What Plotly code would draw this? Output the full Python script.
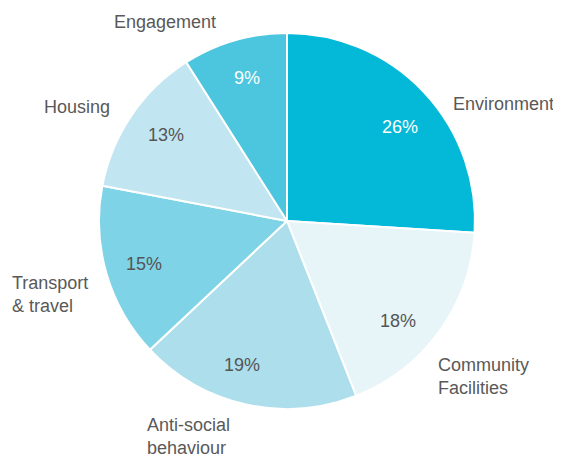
import plotly.graph_objects as go

categories = ["Environment", "Community Facilities", "Anti-social behaviour",
              "Transport & travel", "Housing", "Engagement"]
values = [26, 18, 19, 15, 13, 9]
label_texts = ["Environment", "Community<br>Facilities", "Anti-social<br>behaviour",
               "Transport<br>& travel", "Housing", "Engagement"]

colors = ["#04b8d8", "#e7f5f9", "#acdeec", "#7fd3e6", "#c2e6f1", "#4cc6de"]
pct_colors = ["#ffffff", "#555555", "#555555", "#555555", "#555555", "#ffffff"]

# page body adds an 8px margin, so the figure is drawn 8px smaller and offset
OFF = 8
W, H = 561 - OFF, 454 - OFF
CX, CY, R = 287 - OFF, 221 - OFF, 188

# label positions (reference px)
pct_pos = [(400, 127), (398, 321), (242, 365), (144, 264), (166, 135), (247, 78)]
label_pos = [(503, 104, "center"), (436, 376, "left"), (145, 436, "left"),
             (10, 294, "left"), (77, 107, "center"), (165, 22, "center")]

fig = go.Figure(go.Pie(
    labels=categories, values=values, sort=False, direction="clockwise",
    rotation=0, textinfo="none", hoverinfo="label+percent",
    marker=dict(colors=colors, line=dict(color="#ffffff", width=2)),
    domain=dict(x=[(CX - R) / W, (CX + R) / W], y=[1 - (CY + R) / H, 1 - (CY - R) / H]),
    showlegend=False,
))

font = "Liberation Sans, Arial, Helvetica, sans-serif"
annotations = []
for v, c, (px, py) in zip(values, pct_colors, pct_pos):
    px -= OFF
    py -= OFF
    annotations.append(dict(x=px / W, y=1 - py / H, xref="paper", yref="paper",
                            text=f"{v}%", showarrow=False,
                            font=dict(size=18, color=c, family=font),
                            xanchor="center", yanchor="middle"))

for t, (px, py, anc) in zip(label_texts, label_pos):
    px -= OFF
    py -= OFF
    annotations.append(dict(x=px / W, y=1 - py / H, xref="paper", yref="paper",
                            text=t, showarrow=False, align="left",
                            font=dict(size=18, color="#595959", family=font),
                            xanchor=anc, yanchor="middle"))

fig.update_layout(width=W, height=H, margin=dict(l=0, r=0, t=0, b=0),
                  paper_bgcolor="#ffffff", plot_bgcolor="#ffffff",
                  annotations=annotations)

fig.write_html("out.html")
